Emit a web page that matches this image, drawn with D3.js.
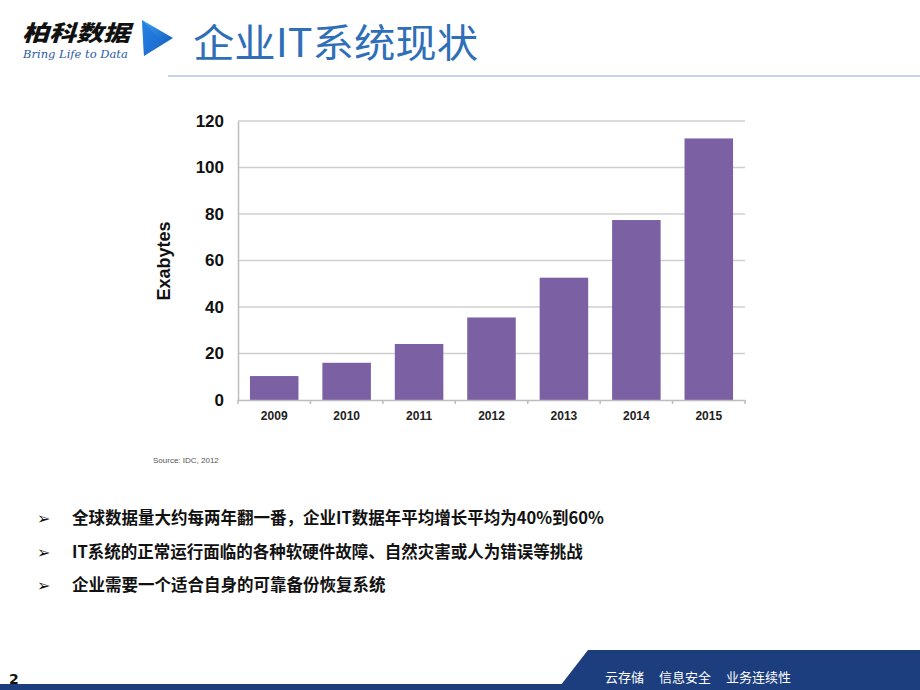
<!DOCTYPE html>
<html>
<head>
<meta charset="utf-8">
<script src="https://cdn.jsdelivr.net/npm/d3@7"></script>
<style>
  body { margin: 0; background: #fff; }
  svg { display: block; }
</style>
</head>
<body>
<svg id="slide" width="920" height="690"></svg>
<script>
// chart data
var years = ["2009", "2010", "2011", "2012", "2013", "2014", "2015"];
var exabytes = [10.3, 16, 24.1, 35.5, 52.6, 77.4, 112.5];
var yTicks = [0, 20, 40, 60, 80, 100, 120];

var bullets = [
  "全球数据量大约每两年翻一番，企业IT数据年平均增长平均为40%到60%",
  "IT系统的正常运行面临的各种软硬件故障、自然灾害或人为错误等挑战",
  "企业需要一个适合自身的可靠备份恢复系统"
];
var footerWords = ["云存储", "信息安全", "业务连续性"];

var svg = d3.select("#slide");
var cjk = "'Noto Sans CJK SC', 'Noto Sans', sans-serif";

// ---- header ----
svg.append("text")
  .attr("x", 22).attr("y", 41)
  .attr("font-family", cjk).attr("font-weight", 900)
  .attr("font-style", "italic").attr("font-size", 22)
  .attr("textLength", 108).attr("lengthAdjust", "spacingAndGlyphs")
  .attr("fill", "#111")
  .text("柏科数据");
svg.append("text")
  .attr("x", 23).attr("y", 58)
  .attr("font-family", "'DejaVu Serif', serif").attr("font-style", "italic")
  .attr("font-size", 11.5).attr("fill", "#2a5aa8")
  .text("Bring Life to Data");

var defs = svg.append("defs");
var grad = defs.append("linearGradient").attr("id", "tri")
  .attr("x1", 0).attr("y1", 0).attr("x2", 1).attr("y2", 1);
grad.append("stop").attr("offset", 0).attr("stop-color", "#3aa0f0");
grad.append("stop").attr("offset", 1).attr("stop-color", "#0d4fb8");
svg.append("path")
  .attr("d", "M142,20 L173,38 L144,56 Z")
  .attr("fill", "url(#tri)");
svg.append("path")
  .attr("d", "M142,20 L160,40 L144,56 Z")
  .attr("fill", "#1c6fd8").attr("opacity", 0.6);

svg.append("text")
  .attr("x", 193).attr("y", 57)
  .attr("font-family", cjk).attr("font-size", 39)
  .attr("textLength", 285).attr("lengthAdjust", "spacingAndGlyphs")
  .attr("fill", "#2f6fb8")
  .text("企业IT系统现状");

svg.append("line")
  .attr("x1", 168).attr("x2", 920).attr("y1", 76).attr("y2", 76)
  .attr("stroke", "#8fa8dc").attr("stroke-width", 1.2);

// ---- chart ----
var plotL = 238, plotR = 745, plotT = 121, plotB = 400;
var x = d3.scaleBand().domain(years).range([plotL, plotR]).paddingInner(0.33).paddingOuter(0.165);
var y = d3.scaleLinear().domain([0, 120]).range([plotB, plotT]);

var chart = svg.append("g");

chart.append("g").attr("class", "grid")
  .selectAll("line").data(yTicks.filter(function(d){ return d > 0; }))
  .enter().append("line")
  .attr("x1", plotL).attr("x2", plotR)
  .attr("y1", function(d){ return y(d); })
  .attr("y2", function(d){ return y(d); })
  .attr("stroke", "#cfcfcf").attr("stroke-width", 1.5);

chart.selectAll("rect.bar").data(exabytes)
  .enter().append("rect").attr("class", "bar")
  .attr("x", function(d, i){ return x(years[i]); })
  .attr("width", x.bandwidth())
  .attr("y", function(d){ return y(d); })
  .attr("height", function(d){ return plotB - y(d); })
  .attr("fill", "#7c60a4");

var yAxis = chart.append("g")
  .attr("transform", "translate(" + plotL + ",0)")
  .call(d3.axisLeft(y).tickValues(yTicks).tickSize(0).tickPadding(14));
yAxis.select(".domain").attr("stroke", "#bdbdbd").attr("stroke-width", 1.5);
yAxis.selectAll("text")
  .attr("font-family", "'Liberation Sans', Arial, sans-serif")
  .attr("font-weight", "bold").attr("font-size", 17).attr("fill", "#111");

var xAxis = chart.append("g")
  .attr("transform", "translate(0," + plotB + ")")
  .call(d3.axisBottom(x).tickSize(0).tickPadding(11));
xAxis.select(".domain").attr("stroke", "#bdbdbd").attr("stroke-width", 1.5);
xAxis.selectAll("text")
  .attr("font-family", "'Liberation Sans', Arial, sans-serif")
  .attr("font-weight", "bold").attr("font-size", 12).attr("fill", "#222");
// small ticks between categories
var step = x.step();
xAxis.selectAll("line.sep").data(d3.range(years.length + 1))
  .enter().append("line").attr("class", "sep")
  .attr("x1", function(i){ return plotL + i * step; })
  .attr("x2", function(i){ return plotL + i * step; })
  .attr("y1", 0).attr("y2", 4)
  .attr("stroke", "#bdbdbd").attr("stroke-width", 1.5);

chart.append("text")
  .attr("transform", "translate(170,261) rotate(-90)")
  .attr("text-anchor", "middle")
  .attr("font-family", "'Liberation Sans', Arial, sans-serif")
  .attr("font-weight", "bold").attr("font-size", 18).attr("fill", "#111")
  .text("Exabytes");

chart.append("text")
  .attr("x", 153).attr("y", 463)
  .attr("font-family", "'Liberation Sans', Arial, sans-serif")
  .attr("font-size", 8).attr("fill", "#555")
  .text("Source: IDC, 2012");

// ---- bullet list ----
var items = svg.append("g").selectAll("g").data(bullets).enter().append("g")
  .attr("transform", function(d, i){ return "translate(0," + (524 + i * 33.5) + ")"; });
items.append("text")
  .attr("x", 37).attr("y", 0)
  .attr("font-family", "'DejaVu Sans', sans-serif").attr("font-size", 16)
  .attr("fill", "#111")
  .text("➢");
items.append("text")
  .attr("x", 72).attr("y", 0)
  .attr("font-family", cjk).attr("font-weight", "bold").attr("font-size", 16.5)
  .attr("fill", "#111")
  .text(function(d){ return d; });

// ---- footer ----
svg.append("path")
  .attr("d", "M588,650 L920,650 L920,690 L557,690 Z")
  .attr("fill", "#1c3d7e");
svg.append("rect")
  .attr("x", 0).attr("y", 684).attr("width", 920).attr("height", 6)
  .attr("fill", "#1c3d7e");
var footX = [605, 659, 726];
svg.append("g").selectAll("text").data(footerWords).enter().append("text")
  .attr("x", function(d, i){ return footX[i]; }).attr("y", 682)
  .attr("font-family", cjk).attr("font-size", 13)
  .attr("fill", "#fff")
  .text(function(d){ return d; });
svg.append("text")
  .attr("x", 9).attr("y", 684)
  .attr("font-family", "'DejaVu Sans', sans-serif").attr("font-weight", "bold")
  .attr("font-size", 14).attr("fill", "#111")
  .text("2");
</script>
</body>
</html>
